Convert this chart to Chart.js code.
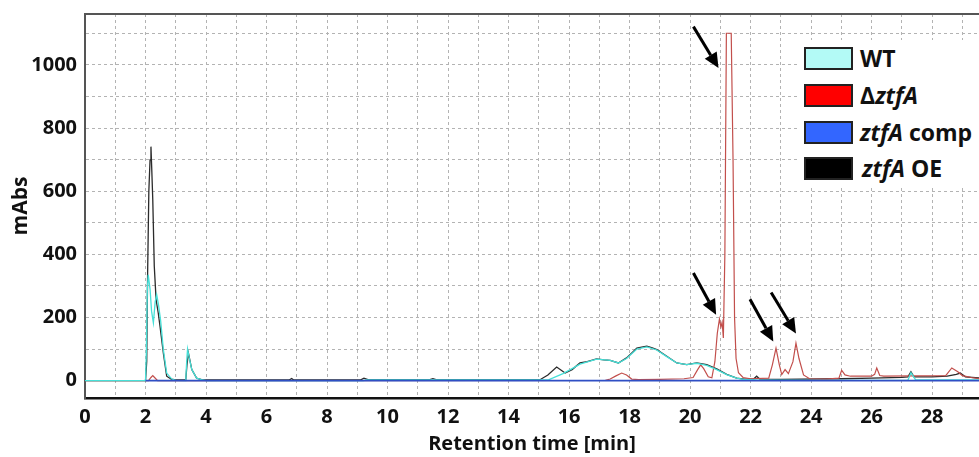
<!DOCTYPE html>
<html>
<head>
<meta charset="utf-8">
<script src="https://cdn.jsdelivr.net/npm/chart.js@4.4.1/dist/chart.umd.min.js"></script>
<style>
  body { margin: 0; background: #fff; overflow: hidden; }
  #wrap { position: relative; width: 979px; height: 457px; }
  #legenda { position: absolute; left: 800px; top: 40px; width: 185px; height: 148px; background: #fff;
    font-family: 'Open Sans', sans-serif; font-weight: bold; font-size: 23px; color: #111; }
  .item { position: absolute; left: 4px; height: 23px; }
  .box { position: absolute; left: 0; top: 0; width: 45px; height: 19px; border: 2px solid #222; }
  .lbl { position: absolute; left: 56px; top: -4px; white-space: nowrap; line-height: 30px; }
</style>
</head>
<body>
<div id="wrap">
  <canvas id="grafico" width="979" height="457"></canvas>
  <div id="legenda">
    <div class="item" style="top:7px"><div class="box" style="background:#b3faf6"></div><span class="lbl">WT</span></div>
    <div class="item" style="top:44px"><div class="box" style="background:#ff0000"></div><span class="lbl">Δ<i>ztfA</i></span></div>
    <div class="item" style="top:81px"><div class="box" style="background:#3366ff"></div><span class="lbl"><i>ztfA</i> comp</span></div>
    <div class="item" style="top:117px"><div class="box" style="background:#000"></div><span class="lbl" style="left:58px"><i>ztfA</i> OE</span></div>
  </div>
</div>
<script>
// WT
var wtTime = [0, 2.0, 2.03, 2.06, 2.09, 2.15, 2.2, 2.26, 2.32, 2.37, 2.43, 2.5, 2.59, 2.7, 2.87, 3.0, 3.33, 3.36, 3.39, 3.45, 3.53, 3.69, 3.85, 4.0, 9.2, 9.3, 12, 15.0, 15.3, 15.8, 16.1, 16.36, 16.91, 17.36, 17.63, 17.9, 18.24, 18.57, 18.9, 19.23, 19.56, 19.89, 20.22, 20.55, 20.88, 21.21, 21.54, 21.76, 22.2, 24, 27.2, 27.3, 27.45, 29.6];
var wtAbs = [0, 0, 100, 290, 335, 290, 220, 183, 250, 272, 240, 190, 98, 24, 5, 1, 0, 60, 100, 70, 35, 8, 3, 0, 0, 2, 2, 2, 2, 22, 38, 52, 68, 64, 56, 70, 100, 107, 97, 76, 56, 51, 55, 48, 35, 19, 8, 4, 2, 1, 1, 25, 3, 2];

// deltaztfA
var dTime = [0, 2.1, 2.18, 2.24, 2.3, 2.4, 3, 17.2, 17.36, 17.55, 17.74, 17.9, 18.07, 18.3, 19, 19.8, 20.1, 20.25, 20.35, 20.45, 20.6, 20.72, 20.82, 20.9, 20.97, 21.02, 21.06, 21.1, 21.15, 21.2, 21.36, 21.42, 21.47, 21.52, 21.6, 21.75, 22.0, 22.6, 22.72, 22.84, 22.95, 23.03, 23.14, 23.25, 23.4, 23.5, 23.6, 23.75, 23.95, 24.5, 24.92, 25.01, 25.12, 25.3, 26.0, 26.1, 26.17, 26.27, 26.4, 28.45, 28.65, 28.85, 29.0, 29.3, 29.6];
var dAbs = [0, 0, 10, 16, 10, 0, 0, 1, 5, 15, 24, 18, 5, 3, 4, 6, 10, 35, 50, 38, 12, 9, 60, 150, 195, 170, 185, 135, 400, 1100, 1100, 700, 200, 70, 25, 10, 6, 8, 50, 103, 50, 19, 35, 22, 60, 119, 70, 18, 6, 5, 8, 33, 18, 14, 14, 20, 40, 16, 14, 16, 40, 28, 16, 10, 6];

// ztfA comp
var compTime = [2.0, 29.6];
var compAbs = [0, 0];

// ztfA OE
var oeTime = [0, 2.0, 2.04, 2.07, 2.11, 2.15, 2.18, 2.21, 2.24, 2.29, 2.35, 2.42, 2.48, 2.59, 2.7, 2.85, 3.0, 3.33, 3.37, 3.42, 3.53, 3.69, 3.85, 4.0, 6.75, 6.83, 6.9, 9.1, 9.22, 9.35, 11.4, 11.5, 11.6, 15.04, 15.3, 15.59, 15.87, 16.1, 16.36, 16.6, 16.91, 17.15, 17.36, 17.63, 17.9, 18.1, 18.24, 18.4, 18.57, 18.75, 18.9, 19.23, 19.56, 19.89, 20.22, 20.55, 20.88, 21.21, 21.54, 21.8, 22.1, 22.2, 22.3, 23, 25, 26, 27, 27.2, 27.3, 27.4, 28, 28.5, 28.8, 28.93, 29.1, 29.6];
var oeAbs = [0, 0, 60, 340, 600, 699, 741, 660, 573, 362, 256, 215, 172, 87, 14, 5, 2, 2, 50, 87, 35, 8, 3, 2, 2, 7, 2, 2, 8, 3, 3, 6, 3, 3, 18, 43, 24, 35, 56, 60, 69, 66, 64, 56, 72, 90, 103, 106, 109, 104, 98, 77, 56, 51, 56, 51, 37, 20, 8, 5, 5, 14, 5, 4, 6, 8, 10, 12, 28, 12, 12, 14, 20, 24, 12, 8];

// arrows (tail -> tip), in min / mAbs
var arrowTailX = [20.11, 20.11, 21.98, 22.68];
var arrowTailY = [1121, 341, 258, 279];
var arrowTipX = [20.94, 20.86, 22.75, 23.5];
var arrowTipY = [990, 209, 124, 149];

function pontos(xs, ys) {
    var out = [];
    for (var i = 0; i < xs.length; i++) out.push({x: xs[i], y: ys[i]});
    return out;
}

var fonte = "'Open Sans', sans-serif";

function semMargem(scale) {
    scale.paddingTop = 0;
    scale.paddingBottom = 0;
    scale.paddingLeft = 0;
    scale.paddingRight = 0;
}

var setas = {
    id: 'setas',
    afterDatasetsDraw: function(chart) {
        var ctx = chart.ctx;
        var sx = chart.scales.x, sy = chart.scales.y;
        var area = chart.chartArea;
        // top frame line
        ctx.save();
        ctx.strokeStyle = '#555';
        ctx.lineWidth = 2;
        ctx.beginPath();
        ctx.moveTo(area.left, area.top);
        ctx.lineTo(area.right, area.top);
        ctx.stroke();
        ctx.fillStyle = '#000';
        ctx.strokeStyle = '#000';
        for (var i = 0; i < arrowTipX.length; i++) {
            var x0 = sx.getPixelForValue(arrowTailX[i]), y0 = sy.getPixelForValue(arrowTailY[i]);
            var x1 = sx.getPixelForValue(arrowTipX[i]), y1 = sy.getPixelForValue(arrowTipY[i]);
            var ang = Math.atan2(y1 - y0, x1 - x0);
            var head = 15, half = 7;
            var bx = x1 - head * Math.cos(ang), by = y1 - head * Math.sin(ang);
            ctx.lineWidth = 3;
            ctx.beginPath();
            ctx.moveTo(x0, y0);
            ctx.lineTo(bx, by);
            ctx.stroke();
            ctx.beginPath();
            ctx.moveTo(x1, y1);
            ctx.lineTo(bx + half * Math.sin(ang), by - half * Math.cos(ang));
            ctx.lineTo(bx - half * Math.sin(ang), by + half * Math.cos(ang));
            ctx.closePath();
            ctx.fill();
        }
        ctx.restore();
    }
};

// first dataset is drawn on top
var config = {
    type: 'line',
    data: {
        datasets: [
            { label: 'ztfA comp', data: pontos(compTime, compAbs), borderColor: '#2f4fc4', borderWidth: 1.6 },
            { label: 'WT', data: pontos(wtTime, wtAbs), borderColor: '#46e0d8', borderWidth: 1.3 },
            { label: 'ΔztfA', data: pontos(dTime, dAbs), borderColor: '#c24f4c', borderWidth: 1.2 },
            { label: 'ztfA OE', data: pontos(oeTime, oeAbs), borderColor: '#2b2b2b', borderWidth: 1.3 }
        ]
    },
    options: {
        responsive: false,
        animation: false,
        elements: { point: { radius: 0 }, line: { tension: 0 } },
        layout: { padding: { top: 14, right: 0, left: 0, bottom: 0 } },
        plugins: { legend: { display: false }, tooltip: { enabled: false } },
        scales: {
            x: {
                type: 'linear',
                min: 0,
                max: 29.55,
                afterFit: function(scale) { scale.height = 59; semMargem(scale); },
                ticks: {
                    stepSize: 1,
                    includeBounds: false,
                    autoSkip: false,
                    maxRotation: 0,
                    padding: 7,
                    color: '#111',
                    font: { family: fonte, size: 20, weight: 'bold' },
                    callback: function(v) { return v % 2 === 0 ? v : ''; }
                },
                grid: { color: '#b3b3b3', lineWidth: 1, drawTicks: false },
                border: { color: '#111', width: 2.5, dash: [3, 3] },
                title: {
                    display: true,
                    text: 'Retention time [min]',
                    color: '#111',
                    font: { family: fonte, size: 20, weight: 'bold' },
                    padding: { top: 0, bottom: 1 }
                }
            },
            y: {
                min: -55,
                max: 1161,
                afterFit: function(scale) { scale.width = 85; semMargem(scale); },
                ticks: {
                    stepSize: 100,
                    includeBounds: false,
                    autoSkip: false,
                    padding: 8,
                    color: '#111',
                    font: { family: fonte, size: 20, weight: 'bold' },
                    callback: function(v) { return v % 200 === 0 ? v : ''; }
                },
                grid: { color: '#b3b3b3', lineWidth: 1, drawTicks: false },
                border: { color: '#555', width: 2, dash: [3, 3] },
                title: {
                    display: true,
                    text: 'mAbs',
                    color: '#111',
                    font: { family: fonte, size: 21, weight: 'bold' },
                    padding: { top: 8, bottom: 0 }
                }
            }
        }
    },
    plugins: [setas]
};

var grafico = new Chart(document.getElementById('grafico'), config);
</script>
</body>
</html>
